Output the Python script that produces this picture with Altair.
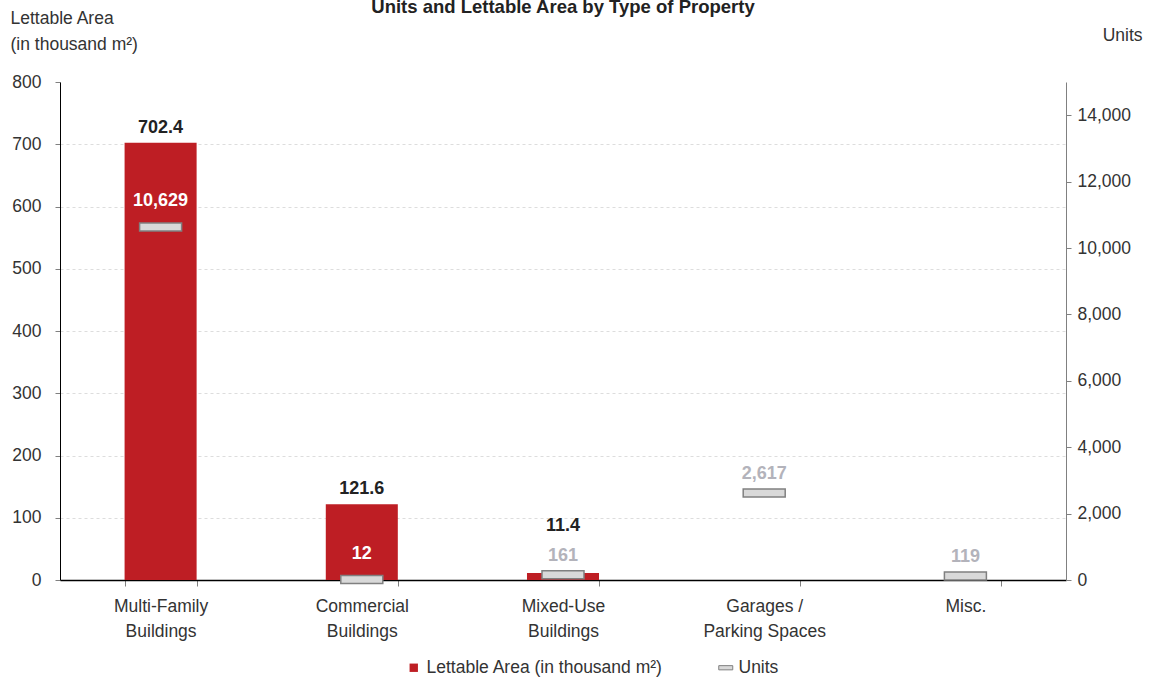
import altair as alt
import pandas as pd

categories = ["Multi-Family\nBuildings", "Commercial\nBuildings", "Mixed-Use\nBuildings",
              "Garages /\nParking Spaces", "Misc."]
area = [702.4, 121.6, 11.4, None, None]
units = [10629, 12, 161, 2617, 119]

FONT = "Liberation Sans Narrow, Arial Narrow, Liberation Sans, sans-serif"
RED = "#BE1E24"
AREA_LBL = "Lettable Area (in thousand m²)"
INSIDE = "isValid(datum.area) && datum.units / 15000 * 800 + 40 < datum.area"

df = pd.DataFrame({"cat": categories, "area": area, "units": units})

x = alt.X("cat:N", sort=categories, title=None,
          scale=alt.Scale(paddingInner=0.642, paddingOuter=0.321),
          axis=alt.Axis(labelExpr="split(datum.label, '\\n')", labelAngle=0,
                        labelFontSize=17.5, labelColor="#333333", labelLineHeight=25,
                        labelPadding=11, labelBaseline="top",
                        tickBand="extent", tickColor="#808080", tickSize=6,
                        domainColor="#000000", domainWidth=1.5))

left_axis = alt.Axis(values=list(range(0, 801, 100)), format=".0f",
                     title=["Lettable Area", "(in thousand m²)"],
                     titleAngle=0, titleAlign="left", titleBaseline="middle",
                     titleX=-50, titleY=-64, titleFontSize=17.5, titleFontWeight="normal",
                     titleColor="#333333", titleLineHeight=26,
                     labelFontSize=17.5, labelColor="#333333", labelPadding=14,
                     tickColor="#808080", tickSize=5, domainColor="#000000",
                     grid=True,
                     gridColor={"condition": {"test": "datum.value >= 800", "value": "transparent"},
                                "value": "#DDDDDD"},
                     gridDash=[3, 3])
left_scale = alt.Scale(domain=[0, 800], nice=False)

bars = alt.Chart(df).mark_bar(color=RED).encode(
    x=x,
    y=alt.Y("area:Q", scale=left_scale, axis=left_axis),
    color=alt.Color("lbl:N", scale=alt.Scale(domain=[AREA_LBL], range=[RED]),
                    legend=alt.Legend(title=None, orient="none", legendX=345, legendY=577,
                                      symbolType="square", symbolSize=70, labelLimit=400,
                                      labelFontSize=17.5, labelColor="#333333", labelFont=FONT)),
).transform_filter("isValid(datum.area)").transform_calculate(lbl=f"'{AREA_LBL}'")

bar_labels = alt.Chart(df).mark_text(baseline="bottom", dy=-6, fontSize=18, fontWeight="bold",
                                     color="#222222", font=FONT).encode(
    x=alt.X("cat:N", sort=categories),
    y=alt.Y("lab_y:Q", scale=left_scale, axis=left_axis),
    text=alt.Text("area:Q", format=".1f"),
).transform_filter("isValid(datum.area)").transform_calculate(
    lab_y=f"({INSIDE}) ? datum.area : max(datum.area, datum.units / 15000 * 800 + 54)")

right_axis = alt.Axis(orient="right", values=list(range(0, 14001, 2000)), format=",.0f",
                      title="Units", titleAngle=0, titleAlign="right", titleBaseline="middle",
                      titleX=76, titleY=-47, titleFontSize=17.5, titleFontWeight="normal",
                      titleColor="#333333",
                      labelFontSize=17.5, labelColor="#333333", labelPadding=6,
                      tickColor="#808080", tickSize=5, domainColor="#808080", grid=False)
right_scale = alt.Scale(domain=[0, 15000], nice=False)
y_right = alt.Y("units:Q", scale=right_scale, axis=right_axis)

ticks = alt.Chart(df).mark_tick(size=42, thickness=8, stroke="#808080", strokeWidth=1.5,
                                filled=True, opacity=1).encode(
    x=alt.X("cat:N", sort=categories),
    y=y_right,
    fill=alt.Fill("ulbl:N", scale=alt.Scale(domain=["Units"], range=["#D9D9D9"]),
                  legend=alt.Legend(title=None, orient="none", legendX=657, legendY=577,
                                    symbolType="M-1,-0.3H1V0.3H-1Z", symbolSize=196,
                                    symbolStrokeColor="#808080", symbolStrokeWidth=1,
                                    labelFontSize=17.5, labelColor="#333333", labelFont=FONT)),
).transform_calculate(ulbl="'Units'")

unit_labels_out = alt.Chart(df).mark_text(baseline="bottom", dy=-10, fontSize=18, fontWeight="bold",
                                          font=FONT, color="#B3B3BB").encode(
    x=alt.X("cat:N", sort=categories),
    y=y_right,
    text=alt.Text("units:Q", format=","),
).transform_filter(f"!({INSIDE})")

unit_labels_in = alt.Chart(df).mark_text(baseline="bottom", dy=-17, fontSize=18, fontWeight="bold",
                                         font=FONT, color="#FFFFFF").encode(
    x=alt.X("cat:N", sort=categories),
    y=y_right,
    text=alt.Text("units:Q", format=","),
).transform_filter(INSIDE)

left = alt.layer(bars, bar_labels)
right = alt.layer(ticks, unit_labels_out, unit_labels_in)

chart = alt.layer(left, right).resolve_scale(y="independent").properties(
    width=1006, height=498,
    autosize=alt.AutoSizeParams(type="none"),
    padding={"left": 60, "top": 82, "right": 84, "bottom": 102},
    title=alt.Title("Units and Lettable Area by Type of Property", fontSize=18.5, fontWeight="bold",
                    anchor="middle", color="#222222", offset=0, dy=7, font=FONT),
).configure(font=FONT).configure_view(stroke=None).configure_axis(labelFont=FONT, titleFont=FONT)

chart.save("out.html", embed_options={"renderer": "svg", "actions": False})
